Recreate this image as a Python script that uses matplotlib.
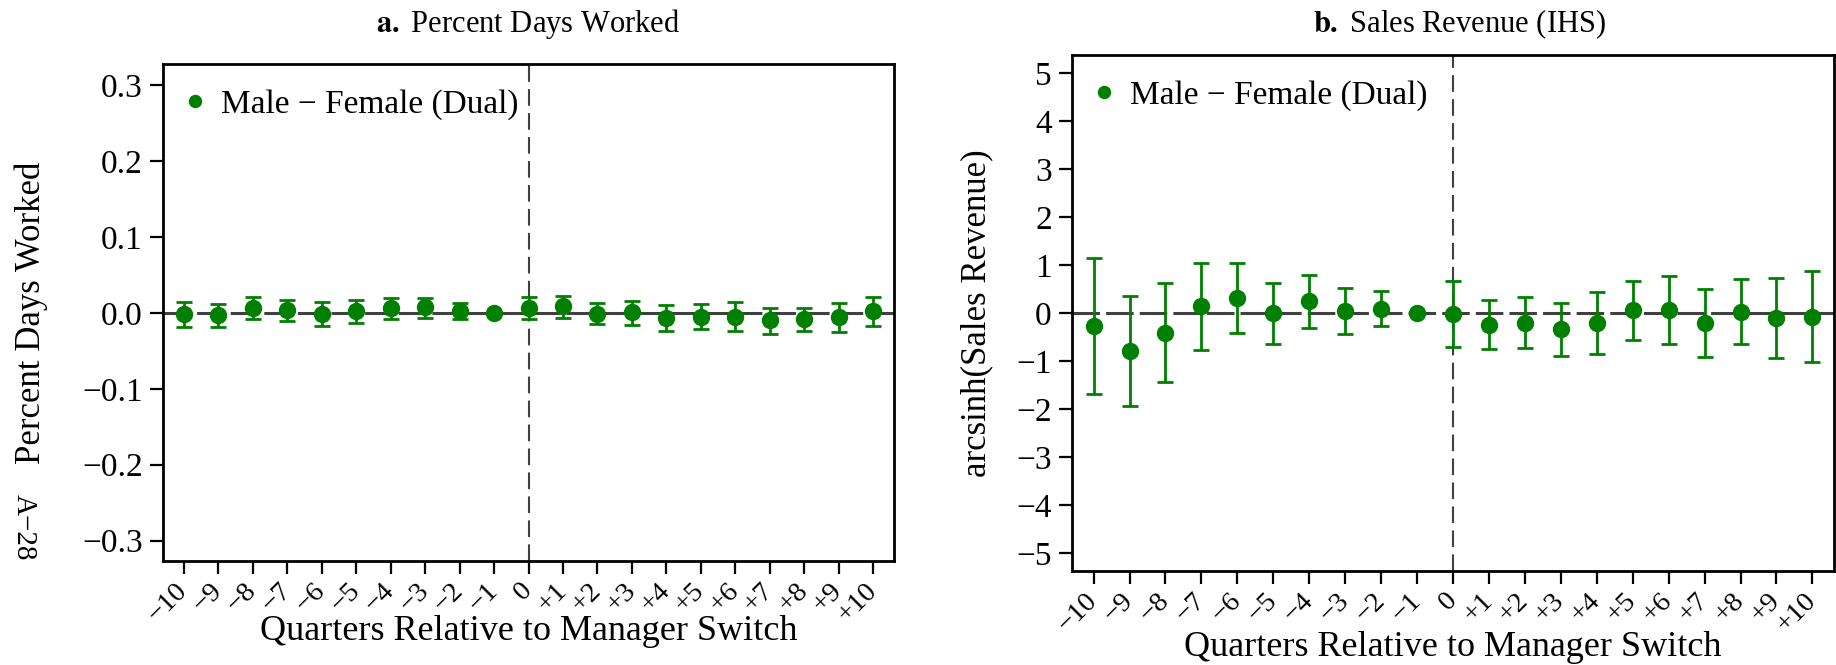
import numpy as np
import matplotlib
matplotlib.use("Agg")
import matplotlib.pyplot as plt

plt.rcParams['font.family'] = ['Liberation Serif', 'DejaVu Serif']
plt.rcParams['mathtext.fontset'] = 'stix'

# event time (quarters relative to switch); -1 is the omitted reference quarter
quarters = np.arange(-10, 11)
tick_labels = ['\u221210', '\u22129', '\u22128', '\u22127', '\u22126', '\u22125', '\u22124',
               '\u22123', '\u22122', '\u22121', '0', '+1', '+2', '+3', '+4', '+5', '+6',
               '+7', '+8', '+9', '+10']

# panel a: percent days worked (point estimate, 95% CI)
days_est = [-0.002, -0.003, 0.007, 0.004, -0.002, 0.003, 0.007, 0.008, 0.003, 0.0,
            0.007, 0.009, -0.001, 0.001, -0.007, -0.005, -0.005, -0.010, -0.008, -0.005, 0.002]
days_hi = [0.0145, 0.0123, 0.0206, 0.0167, 0.0140, 0.0176, 0.0193, 0.0198, 0.0132, 0.0,
           0.0206, 0.0224, 0.0127, 0.0158, 0.0105, 0.0123, 0.0140, 0.0066, 0.0070, 0.0136, 0.0206]
days_lo = [-0.0184, -0.0184, -0.0083, -0.0101, -0.0167, -0.0127, -0.0075, -0.0066, -0.0079, 0.0,
           -0.0083, -0.0066, -0.0149, -0.0154, -0.0233, -0.0215, -0.0233, -0.0281, -0.0237, -0.0246, -0.0176]

# panel b: sales revenue (IHS)
sales_est = [-0.28, -0.80, -0.42, 0.14, 0.31, -0.01, 0.24, 0.04, 0.08, 0.0,
             -0.02, -0.25, -0.20, -0.34, -0.21, 0.06, 0.07, -0.21, 0.03, -0.10, -0.08]
sales_hi = [1.14, 0.36, 0.62, 1.04, 1.05, 0.62, 0.80, 0.51, 0.45, 0.0,
            0.66, 0.27, 0.33, 0.21, 0.44, 0.66, 0.77, 0.50, 0.70, 0.73, 0.87]
sales_lo = [-1.69, -1.94, -1.44, -0.76, -0.42, -0.64, -0.31, -0.43, -0.28, 0.0,
            -0.70, -0.75, -0.72, -0.90, -0.85, -0.56, -0.64, -0.91, -0.64, -0.94, -1.02]

green = '#008000'
W, H = 1836, 665
fig = plt.figure(figsize=(W/100, H/100), dpi=100)
ax1 = fig.add_axes([163/W, 1-561/H, (894-163)/W, (561-64)/H])
ax2 = fig.add_axes([1072/W, 1-571/H, (1834-1072)/W, (571-55)/H])


def panel(ax, est, lo, hi, ylim, yticks, yfmt, xlab_y):
    est = np.array(est); lo = np.array(lo); hi = np.array(hi)
    ax.axhline(0, color='#404040', lw=2.2, dashes=(9, 2), zorder=1)
    ax.axvline(0, color='#404040', lw=1.5, dashes=(8, 3.5), zorder=1)
    ax.errorbar(quarters, est, yerr=[est - lo, hi - est], fmt='none', ecolor=green,
                elinewidth=2, capsize=5.5, capthick=2, zorder=2)
    ax.plot(quarters, est, 'o', color=green, ms=11.5, zorder=3,
            label='Male \u2212 Female (Dual)')
    ax.set_xlim(-10.6, 10.6)
    ax.set_ylim(*ylim)
    ax.set_yticks(yticks)
    ax.set_yticklabels([yfmt(v).replace('-', '\u2212') for v in yticks])
    ax.set_xticks(quarters)
    ax.set_xticklabels(tick_labels, rotation=45, ha='right', va='center',
                       rotation_mode='anchor')
    ax.tick_params(direction='out', length=9.5, width=1.6, labelsize=24, pad=5)
    ax.tick_params(axis='x', labelsize=20.5, pad=9)
    for s in ax.spines.values():
        s.set_linewidth(2)
    ax.set_xlabel('Quarters Relative to Manager Switch', fontsize=26, va='top')
    ax.xaxis.set_label_coords(0.5, xlab_y)
    ax.legend(loc='upper left', frameon=False, fontsize=24, numpoints=1,
              markerscale=0.75, handlelength=0.4, handletextpad=0.6,
              borderaxespad=0.45, borderpad=0.3)
    return ax


panel(ax1, days_est, days_lo, days_hi, (-0.327, 0.328),
      [-0.3, -0.2, -0.1, 0.0, 0.1, 0.2, 0.3], lambda v: '%.1f' % v, (561-615)/497)
panel(ax2, sales_est, sales_lo, sales_hi, (-5.37, 5.37),
      list(range(-5, 6)), lambda v: '%d' % v, (571-631)/516)

ax1.set_ylabel('Percent Days Worked', fontsize=25)
ax1.yaxis.set_label_coords((48-163)/731, 0.5)
ax2.set_ylabel('arcsinh(Sales Revenue)', fontsize=25)
ax2.yaxis.set_label_coords((993-1072)/762, 0.5)
fig.text(24/W, 1-527/H, 'A\u221228', rotation=270, fontsize=21,
         ha='center', va='center')

# panel titles
fig.text(528/W, 1-32/H, r'$\mathbf{a.}$ Percent Days Worked', fontsize=22,
         ha='center', va='baseline')
fig.text(1460/W, 1-32/H, r'$\mathbf{b.}$ Sales Revenue (IHS)', fontsize=22,
         ha='center', va='baseline')

fig.savefig('out.png', dpi=100)
